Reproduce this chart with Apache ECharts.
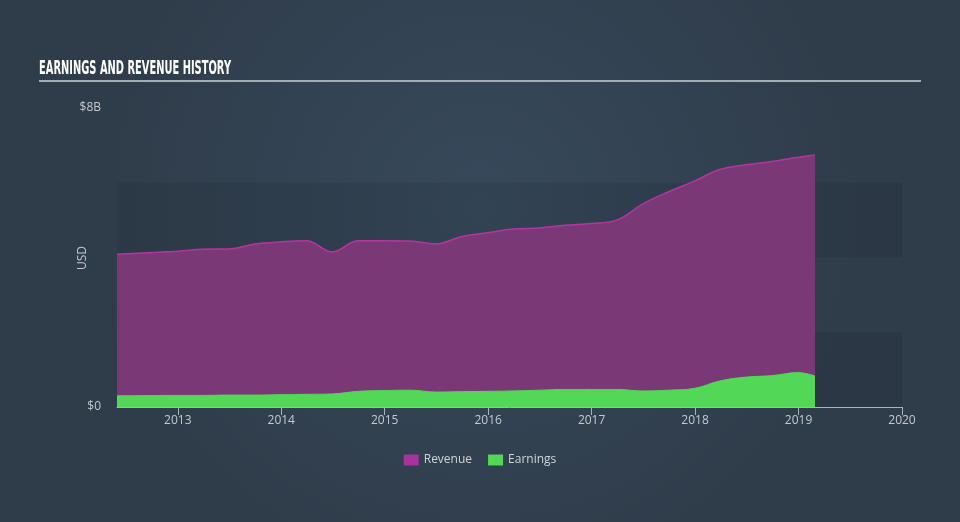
<!DOCTYPE html>
<html>
<head>
<meta charset="utf-8">
<script src="https://cdn.jsdelivr.net/npm/echarts@6/dist/echarts.min.js"></script>
<style>
html,body{margin:0;padding:0;width:960px;height:522px;overflow:hidden;background:#323f4e;}
#chart{width:960px;height:522px;}
</style>
</head>
<body>
<div id="chart"></div>
<script>
// Data (values in USD billions)
const dates = ['2012-05-31','2012-12-31','2013-03-31','2013-06-30','2013-09-30','2013-12-31',
  '2014-03-31','2014-06-30','2014-09-30','2014-12-31','2015-03-31','2015-06-30','2015-09-30',
  '2015-12-31','2016-03-31','2016-06-30','2016-09-30','2016-12-31','2017-03-31','2017-06-30',
  '2017-09-30','2017-12-31','2018-03-31','2018-06-30','2018-09-30','2018-12-31','2019-02-28'];
const revenue = [4.09,4.17,4.22,4.23,4.36,4.42,4.45,4.15,4.45,4.45,4.44,4.36,4.56,
  4.66,4.76,4.79,4.86,4.91,5.00,5.43,5.76,6.05,6.36,6.48,6.57,6.68,6.74];
const earnings = [0.30,0.31,0.31,0.32,0.32,0.33,0.34,0.35,0.42,0.44,0.45,0.40,0.41,
  0.42,0.43,0.45,0.47,0.47,0.47,0.43,0.45,0.50,0.70,0.80,0.84,0.92,0.83];
const xTickYears = [2013,2014,2015,2016,2017,2018,2019,2020];
const xStart = '2012-05-31';
const xEnd = '2020-01-01';
const yLabelValues = [0, 8];
const seriesNames = ['Revenue','Earnings'];

function toYear(s){
  const d = new Date(s + 'T00:00:00Z');
  const y = d.getUTCFullYear();
  const a = Date.UTC(y,0,1), b = Date.UTC(y+1,0,1);
  return y + (d.getTime()-a)/(b-a);
}
const B = 1e9;
const revData = dates.map((d,i)=>[toYear(d), revenue[i]*B]);
const earnData = dates.map((d,i)=>[toYear(d), earnings[i]*B]);

const chart = echarts.init(document.getElementById('chart'), null, {renderer:'canvas'});
const labelColor = '#c3c9cf';
chart.setOption({
  animation:false,
  backgroundColor: new echarts.graphic.RadialGradient(0.5,0.4,0.75,[
    {offset:0,color:'#37495b'},{offset:1,color:'#2f3c4a'}]),
  graphic:[
    {type:'text', x:39, y:60, scaleX:0.52, style:{text:'EARNINGS AND REVENUE HISTORY', fill:'#ffffff',
      font:'bold 19px "DejaVu Sans", sans-serif'}},
    {type:'rect', shape:{x:39,y:80,width:882,height:2}, style:{fill:'#a3abb3'}},
    {type:'text', x:83, y:258, rotation:Math.PI/2, style:{text:'USD', fill:labelColor,
      font:'12px "Open Sans", sans-serif', align:'center', verticalAlign:'middle'}}
  ],
  legend:{
    data:seriesNames, top:449, left:'center', itemWidth:15, itemHeight:11, itemGap:16,
    icon:'rect',
    textStyle:{color:'#d0d4d8', fontSize:12, fontFamily:'"Open Sans", sans-serif'}
  },
  grid:{left:117, right:58, top:108, bottom:115},
  xAxis:{
    type:'value',
    min:toYear(xStart), max:toYear(xEnd),
    axisLine:{show:true, lineStyle:{color:'#aab2ba', width:1}},
    axisTick:{show:true, length:8, lineStyle:{color:'#aab2ba'},
      customValues: xTickYears},
    axisLabel:{color:labelColor, fontSize:12, margin:8, fontFamily:'"Open Sans", sans-serif',
      customValues: xTickYears,
      formatter:(v)=> String(Math.round(v))},
    splitLine:{show:false}
  },
  yAxis:{
    type:'value', min:0, max:8*B, interval:2*B,
    axisLine:{show:false}, axisTick:{show:false},
    splitLine:{show:false},
    splitArea:{show:true, areaStyle:{color:['rgba(15,25,35,0.12)','rgba(0,0,0,0)']}},
    axisLabel:{color:labelColor, fontSize:12, margin:16, fontFamily:'"Open Sans", sans-serif',
      customValues: yLabelValues.map(v=>v*B),
      formatter:(v)=> v===0 ? '$0' : '$'+(v/B)+'B'}
  },
  series:[
    {name:seriesNames[0], type:'line', data:revData, smooth:0.4, showSymbol:false,
      itemStyle:{color:'#a8339b'},
      lineStyle:{color:'#b5359f', width:1.5},
      areaStyle:{color:'#7a3876', opacity:1}},
    {name:seriesNames[1], type:'line', data:earnData, smooth:0.4, showSymbol:false,
      itemStyle:{color:'#52d756'},
      lineStyle:{color:'#52d756', width:1},
      areaStyle:{color:'#52d756', opacity:1}}
  ]
});
</script>
</body>
</html>
